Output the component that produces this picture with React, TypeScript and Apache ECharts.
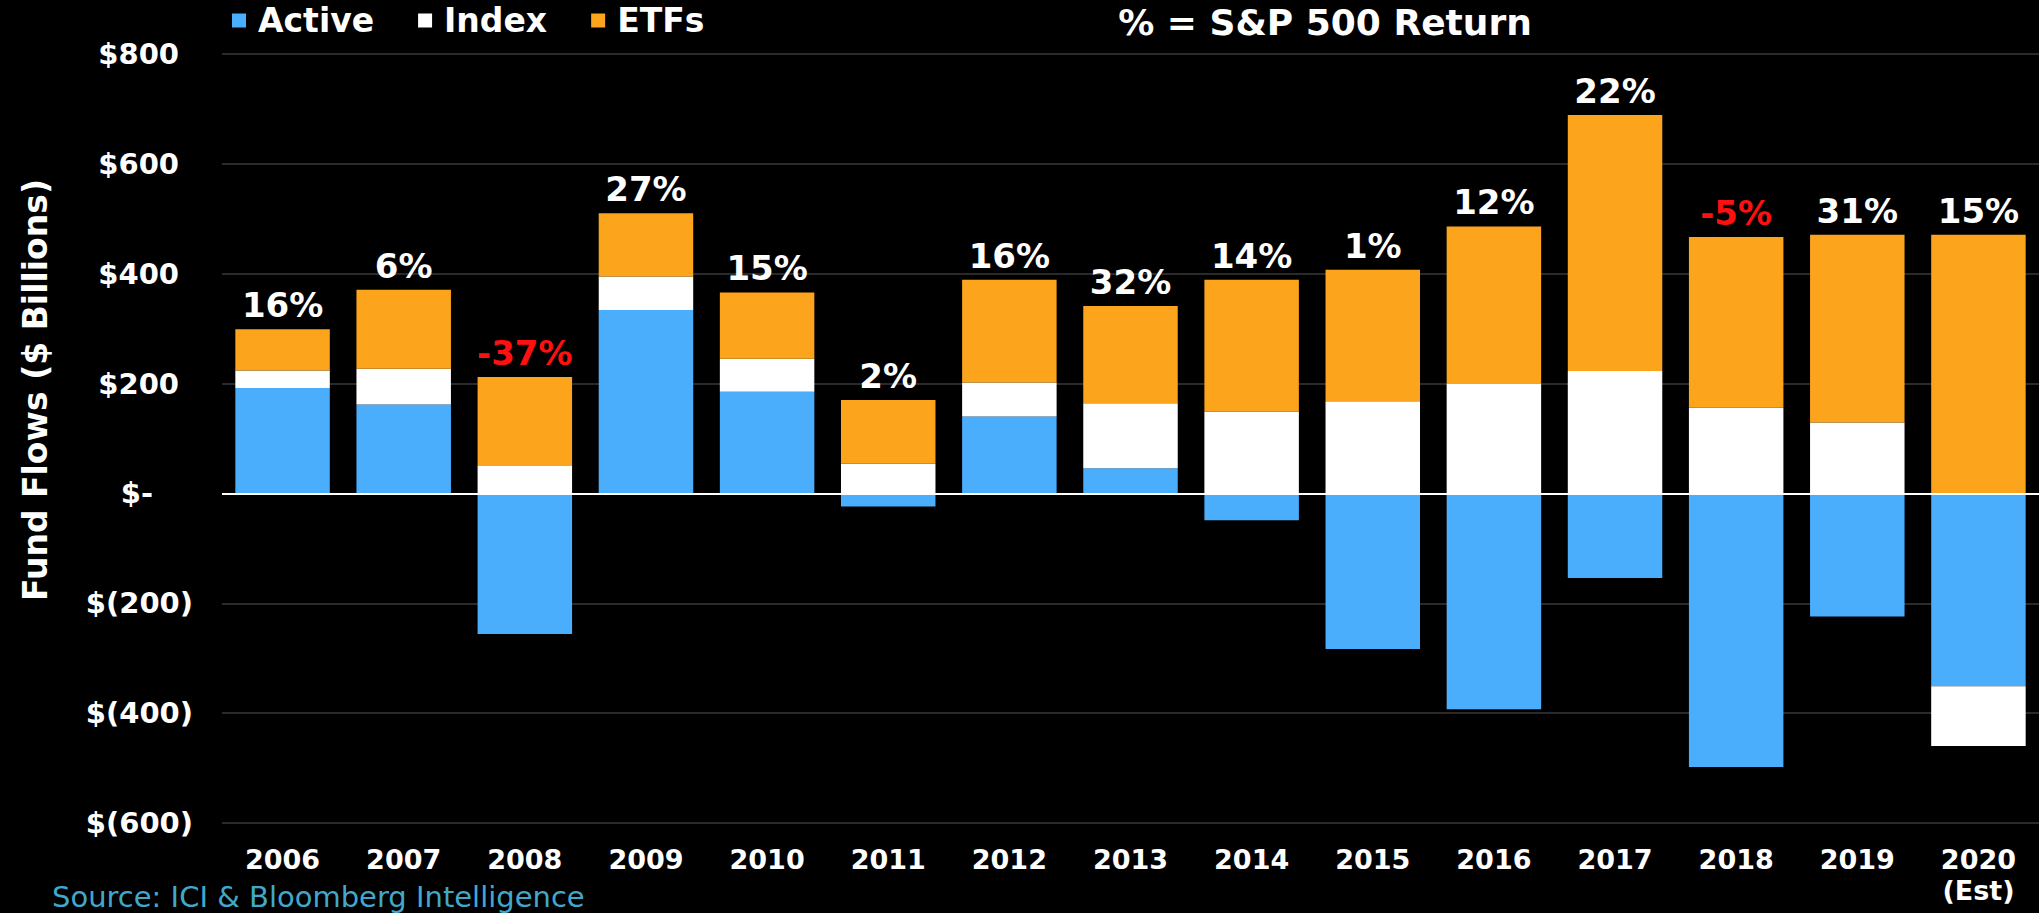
import React, { useEffect, useRef } from "react";
import * as echarts from "echarts";

const years = ["2006", "2007", "2008", "2009", "2010", "2011", "2012", "2013", "2014", "2015", "2016", "2017", "2018", "2019", "2020\n(Est)"];
const active = [192, 162, -256, 334, 185, -24, 140, 46, -49, -283, -393, -154, -498, -224, -351];
const indexFlows = [32, 65, 50, 61, 60, 54, 62, 118, 149, 168, 199, 223, 156, 129, -109];
const etfs = [75, 144, 162, 115, 121, 116, 187, 177, 240, 239, 287, 466, 311, 342, 471];
const spReturns = ["16%", "6%", "-37%", "27%", "15%", "2%", "16%", "32%", "14%", "1%", "12%", "22%", "-5%", "31%", "15%"];
const yMin = -600;
const yMax = 800;
const yStep = 200;

const BLUE = "#4BAEFC";
const WHITE = "#FFFFFF";
const ORANGE = "#FCA41C";
const FONT = "DejaVu Sans";

export default function App() {
  const ref = useRef<HTMLDivElement>(null);

  useEffect(() => {
    document.body.style.margin = "0";
    document.body.style.background = "#000";
    if (!ref.current) return;
    const chart = echarts.init(ref.current, null, { renderer: "svg" });

    const labelFont = { fontFamily: FONT, fontWeight: "bold" as const, fontSize: 29, color: "#fff" };

    chart.setOption({
      animation: false,
      backgroundColor: "#000",
      title: [
        {
          text: "% = S&P 500 Return",
          left: 1325,
          top: 4,
          padding: 0,
          textAlign: "center",
          textStyle: { color: "#fff", fontFamily: FONT, fontWeight: "bold", fontSize: 36 },
        },
        {
          text: "Source: ICI & Bloomberg Intelligence",
          left: 52,
          top: 882,
          padding: 0,
          textStyle: { color: "#41A8CC", fontFamily: FONT, fontWeight: "normal", fontSize: 29 },
        },
      ],
      legend: {
        left: 232,
        top: 4,
        padding: 0,
        icon: "rect",
        itemWidth: 14,
        itemHeight: 14,
        itemGap: 44,
        textStyle: {
          color: "#fff",
          fontFamily: FONT,
          fontWeight: "bold",
          fontSize: 33,
          padding: [0, 0, 0, 7],
        },
        data: ["Active", "Index", "ETFs"],
      },
      graphic: [
        {
          type: "text",
          x: 35,
          y: 390,
          rotation: Math.PI / 2,
          style: {
            text: "Fund Flows ($ Billions)",
            fill: "#fff",
            font: `bold 33px "${FONT}"`,
            textAlign: "center",
            textVerticalAlign: "middle",
          },
        },
      ],
      grid: { left: 222, right: 0, top: 54, bottom: 90, containLabel: false },
      xAxis: {
        type: "category",
        data: years,
        axisLine: { show: false, onZero: false },
        axisTick: { show: false },
        axisLabel: { ...labelFont, fontSize: 27, margin: 21, lineHeight: 31, interval: 0 },
      },
      yAxis: {
        type: "value",
        min: yMin,
        max: yMax,
        interval: yStep,
        axisLine: { show: false },
        axisTick: { show: false },
        splitLine: { lineStyle: { color: "#2A2A2A", width: 2 } },
        axisLabel: {
          margin: 29,
          ...labelFont,
          formatter: (v: number) =>
            v === 0 ? "{z|$-}" : v < 0 ? `{n|$(${-v})}` : `{p|$${v}}`,
          rich: {
            p: { ...labelFont, padding: [0, 14, 0, 0] },
            n: { ...labelFont },
            z: { ...labelFont, padding: [0, 40, 0, 0] },
          },
        },
      },
      series: [
        {
          name: "Active",
          type: "bar",
          stack: "flows",
          barWidth: "78%",
          itemStyle: { color: BLUE },
          data: active,
          markLine: {
            silent: true,
            symbol: "none",
            label: { show: false },
            lineStyle: { color: "#fff", width: 2, type: "solid" },
            data: [{ yAxis: 0 }],
          },
        },
        {
          name: "Index",
          type: "bar",
          stack: "flows",
          barWidth: "78%",
          itemStyle: { color: WHITE },
          data: indexFlows,
        },
        {
          name: "ETFs",
          type: "bar",
          stack: "flows",
          barWidth: "78%",
          itemStyle: { color: ORANGE },
          data: etfs.map((v, i) => ({
            value: v,
            label: { color: spReturns[i].startsWith("-") ? "#FF1010" : "#fff" },
          })),
          label: {
            show: true,
            position: "top",
            distance: 7,
            fontFamily: FONT,
            fontWeight: "bold",
            fontSize: 34,
            formatter: (p: any) => spReturns[p.dataIndex],
          },
        },
      ],
    });

    return () => chart.dispose();
  }, []);

  return <div ref={ref} style={{ width: 2039, height: 913, background: "#000" }} />;
}
